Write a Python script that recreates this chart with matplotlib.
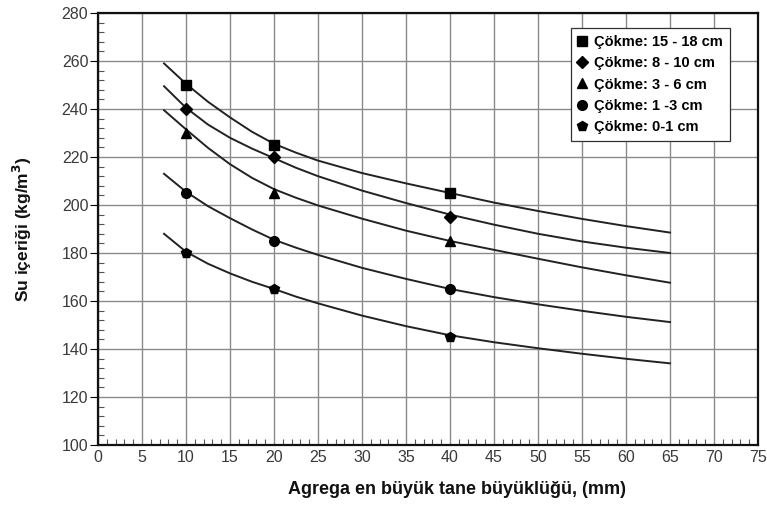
import matplotlib
matplotlib.use('Agg')
import matplotlib.pyplot as plt
from matplotlib.ticker import MultipleLocator

plt.rcParams['font.family'] = ['Liberation Sans', 'DejaVu Sans']

# measured points
x_pts = [10, 20, 40]
y_15_18 = [250, 225, 205]
y_8_10 = [240, 220, 195]
y_3_6 = [230, 205, 185]
y_1_3 = [205, 185, 165]
y_0_1 = [180, 165, 145]

# curves
x_curve = [7.5, 10, 12.5, 15, 17.5, 20, 22.5, 25, 30, 35, 40, 45, 50, 55, 60, 65]
c_15_18 = [259, 250.5, 243, 236.5, 230.5, 225.5, 221.8, 218.5, 213.3, 209, 205, 201, 197.5, 194.2, 191.2, 188.5]
c_8_10 = [249.5, 240.5, 233.5, 228, 223.5, 219.5, 215.5, 212, 206, 200.8, 196, 191.8, 188, 184.8, 182.2, 180]
c_3_6 = [239.5, 231.5, 223.8, 217, 211.3, 206.6, 203, 199.8, 194.3, 189.3, 185, 181.3, 177.6, 174, 170.7, 167.6]
c_1_3 = [213, 205.5, 199.5, 194.5, 189.8, 185.5, 182.2, 179.2, 173.8, 169.2, 165, 161.6, 158.6, 155.9, 153.4, 151.2]
c_0_1 = [188, 180.5, 175.5, 171.5, 168, 165, 161.8, 159, 153.9, 149.5, 145.7, 142.8, 140.3, 138, 135.9, 134]

labels = ['Çökme: 15 - 18 cm', 'Çökme: 8 - 10 cm', 'Çökme: 3 - 6 cm', 'Çökme: 1 -3 cm', 'Çökme: 0-1 cm']
markers = ['s', 'D', '^', 'o', 'p']
msizes = [7, 6, 7, 7, 7]

fig = plt.figure(figsize=(7.67, 5.21), dpi=100)
ax = fig.add_axes([0.1278, 0.146, 0.8605, 0.829])

points = [y_15_18, y_8_10, y_3_6, y_1_3, y_0_1]
curves = [c_15_18, c_8_10, c_3_6, c_1_3, c_0_1]
for yp, yc, m, ms, lab in zip(points, curves, markers, msizes, labels):
    ax.plot(x_curve, yc, color='#222222', lw=1.4, zorder=3)
    ax.plot(x_pts, yp, ls='none', marker=m, ms=ms, color='black', label=lab, zorder=4)

ax.set_xlim(0, 75)
ax.set_ylim(100, 280)
ax.xaxis.set_major_locator(MultipleLocator(5))
ax.xaxis.set_minor_locator(MultipleLocator(1))
ax.yaxis.set_major_locator(MultipleLocator(20))
ax.yaxis.set_minor_locator(MultipleLocator(4))
ax.grid(True, which='major', color='#8a8a8a', lw=1.0, zorder=0)

ax.tick_params(axis='x', which='both', direction='in', labelsize=11.5, labelcolor='#3a3a3a', pad=4)
ax.tick_params(axis='x', which='major', length=0)
ax.tick_params(axis='x', which='minor', length=4, width=0.8, color='#555555')
ax.tick_params(axis='y', which='major', direction='out', length=6, labelsize=11.5, labelcolor='#3a3a3a', pad=1)
ax.tick_params(axis='y', which='minor', direction='in', length=4, width=0.8, color='#555555')
for s in ax.spines.values():
    s.set_linewidth(1.6)
    s.set_color('#111111')

leg = ax.legend(loc='upper right', bbox_to_anchor=(0.9576, 0.966), frameon=True, fancybox=False,
                edgecolor='#333333', handlelength=0.6, handletextpad=0.5, labelspacing=0.5,
                borderpad=0.5, borderaxespad=0, framealpha=1, prop={'weight': 'bold', 'size': 10.5})
leg.get_frame().set_linewidth(0.9)

fig.text(0.596, 0.06, 'Agrega en büyük tane büyüklüğü, (mm)', ha='center', va='center',
         fontsize=13, fontweight='bold', color='#111111')
fig.text(0.029, 0.56, 'Su içeriği (kg/m$^\\mathbf{3}$)', ha='center', va='center', rotation=90,
         fontsize=12.5, fontweight='bold', color='#111111')

fig.savefig('out.png', dpi=100)
